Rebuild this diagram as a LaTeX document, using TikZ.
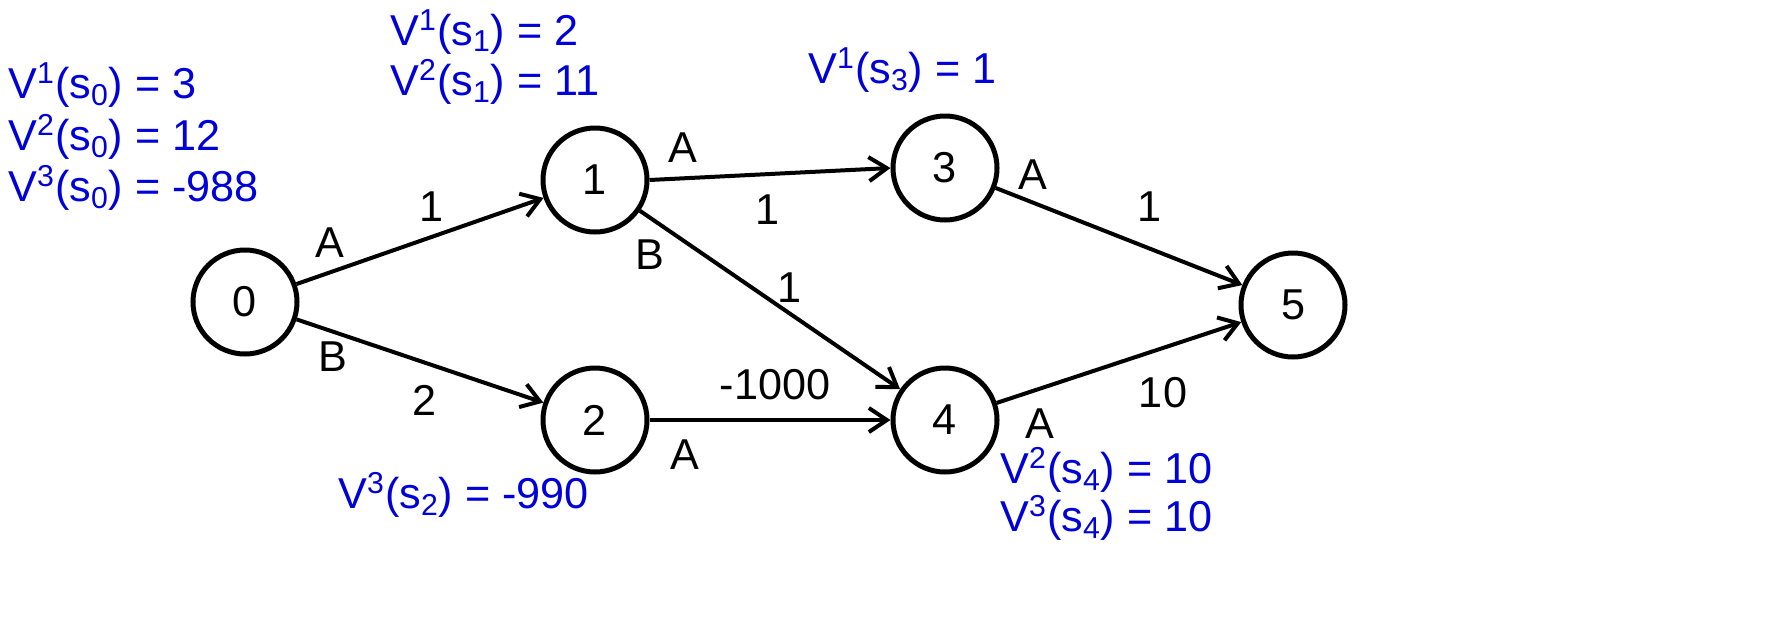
\documentclass[tikz,border=0pt]{standalone}
\usepackage{fontspec}
\setmainfont{Liberation Sans}
\usetikzlibrary{arrows.meta}
\begin{document}
\begin{tikzpicture}[x=0.5pt,y=-0.5pt,
  st/.style={circle,draw,line width=2.5pt,minimum size=52pt,inner sep=0pt,font=\fontsize{21.6}{26}\selectfont},
  ed/.style={line width=2pt,-{Straight Barb[length=9pt,width=12pt,line width=2pt]}},
  lb/.style={font=\fontsize{21.6}{26}\selectfont},
  val/.style={font=\fontsize{21.6}{26}\selectfont,text=blue!85!black,anchor=west,inner sep=0pt}]
\useasboundingbox (0,0) rectangle (1768,638);
\node[st] (n0) at (245,302) {0};
\node[st] (n1) at (595,180) {1};
\node[st] (n2) at (595,420) {2};
\node[st] (n3) at (945,168) {3};
\node[st] (n4) at (945,420) {4};
\node[st] (n5) at (1293,305) {5};
\draw[ed] (n0) -- (n1);
\draw[ed] (n0) -- (n2);
\draw[ed] (n1.east) -- (n3.west);
\draw[ed] (n1) -- (n4);
\draw[ed] (n2) -- (n4);
\draw[ed] (n3) -- (n5);
\draw[ed] (n4) -- (n5);
\node[lb] (l1) at (330,243) {A};
\node[lb] (l2) at (432,207) {1};
\node[lb] (l3) at (333,357) {B};
\node[lb] (l4) at (425,400) {2};
\node[lb] (l5) at (683,148) {A};
\node[lb] (l6) at (768,210) {1};
\node[lb] (l7) at (650,255) {B};
\node[lb] (l8) at (790,288) {1};
\node[lb] (l9) at (775,385) {-1000};
\node[lb] (l10) at (685,455) {A};
\node[lb] (l11) at (1033,175) {A};
\node[lb] (l12) at (1150,207) {1};
\node[lb] (l13) at (1163,393) {10};
\node[lb] (l14) at (1040,424) {A};
\node[val] (v1) at (8,85) {V\textsuperscript{1}(s\textsubscript{0}) = 3};
\node[val] (v2) at (8,137) {V\textsuperscript{2}(s\textsubscript{0}) = 12};
\node[val] (v3) at (8,188) {V\textsuperscript{3}(s\textsubscript{0}) = -988};
\node[val] (v4) at (390,32) {V\textsuperscript{1}(s\textsubscript{1}) = 2};
\node[val] (v5) at (390,82) {V\textsuperscript{2}(s\textsubscript{1}) = 11};
\node[val] (v6) at (808,70) {V\textsuperscript{1}(s\textsubscript{3}) = 1};
\node[val] (v7) at (338,495) {V\textsuperscript{3}(s\textsubscript{2}) = -990};
\node[val] (v8) at (1000,470) {V\textsuperscript{2}(s\textsubscript{4}) = 10};
\node[val] (v9) at (1000,518) {V\textsuperscript{3}(s\textsubscript{4}) = 10};
\end{tikzpicture}
\end{document}
